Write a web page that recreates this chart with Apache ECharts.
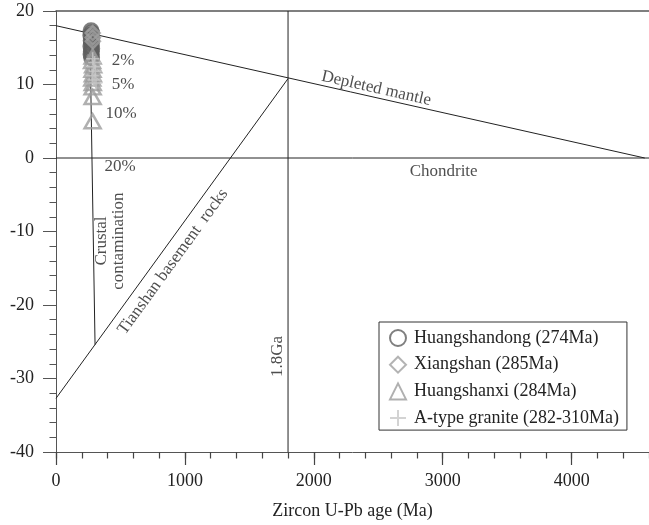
<!DOCTYPE html>
<html>
<head>
<meta charset="utf-8">
<script src="https://cdn.jsdelivr.net/npm/echarts@6/dist/echarts.min.js"></script>
<style>
  html, body { margin: 0; padding: 0; background: #fff; }
  #chart { width: 649px; height: 525px; }
</style>
</head>
<body>
<div id="chart"></div>
<script>
const SERIF = '"Liberation Serif", "Times New Roman", serif';

// Axis extents and tick steps
const xRange = [0, 4600];
const xMajorStep = 1000;
const xMinorStep = 200;
const yRange = [-40, 20];
const yMajorStep = 10;

// Zircon samples: age (Ma) and εHf(t)
const huangshandong = [[272, 17.3], [276, 17.0], [270, 16.7], [278, 16.3], [273, 16.0], [275, 15.6],
                       [271, 15.2], [277, 14.9], [274, 14.5], [272, 14.1], [276, 13.7]];
const xiangshan = [[285, 17.0], [285, 16.4], [286, 15.9]];
const huangshanxi = [[284, 13.8], [280, 13.2], [288, 12.6], [283, 12.0], [286, 11.4], [281, 10.8],
                     [285, 10.2], [284, 9.6], [284, 8.3], [284, 5.0]];
const aTypeGranite = [[285, 13.5], [300, 13.0], [290, 12.4], [305, 11.8], [282, 11.2], [295, 10.6], [310, 10.2]];

// Reference evolution lines
const depletedMantle = [[0, 18.0], [4567, 0]];
const chondrite = [[0, 0], [4600, 0]];
const tianshanBasement = [[0, -32.7], [1800, 10.8]];
const crustalTrend = [[263, 17.0], [303, -25.4]];
const age18Ga = [[1800, -40], [1800, 20]];

// Annotations: text, anchor point, rotation (deg)
const noteTexts = ['2%', '5%', '10%', '20%', 'Depleted mantle', 'Chondrite',
                   'Tianshan basement  rocks', 'Crustal\ncontamination', '1.8Ga'];
const notePoints = [[520, 13.3], [520, 10.0], [505, 6.0], [497, -1.2], [2484, 9.45], [3007, -1.9],
                    [908, -14.1], [419, -11.3], [1722, -27.0]];
const noteAngles = [0, 0, 0, 0, -12.7, 0, 54, 90, 90];

const lineColor = '#222';
const axisColor = '#555';

function refLine(data) {
  return {
    type: 'line', data: data, symbol: 'none', silent: true, z: 1,
    lineStyle: { color: lineColor, width: 1 }, animation: false
  };
}

const chart = echarts.init(document.getElementById('chart'), null, { renderer: 'canvas' });

chart.setOption({
  animation: false,
  backgroundColor: '#fff',
  textStyle: { fontFamily: SERIF },
  grid: { left: 56, top: 11, right: 0, bottom: 72.5, containLabel: false },
  xAxis: [
    {
      // major ticks, labels and axis title
      type: 'value', min: xRange[0], max: xRange[1], interval: xMajorStep, position: 'bottom',
      name: 'Zircon U-Pb age (Ma)', nameLocation: 'middle', nameGap: 50,
      nameTextStyle: { fontFamily: SERIF, fontSize: 18, color: '#222' },
      axisLine: { show: true, onZero: false, lineStyle: { color: axisColor, width: 1 } },
      axisTick: { show: true, length: 13, lineStyle: { color: '#444', width: 1.2 } },
      axisLabel: { show: true, margin: 20, fontFamily: SERIF, fontSize: 18, color: '#222',
                   showMaxLabel: false, formatter: v => String(v) },
      splitLine: { show: false }
    },
    {
      // minor ticks every 200 Ma
      type: 'value', min: xRange[0], max: xRange[1], interval: xMinorStep, position: 'bottom',
      axisLine: { show: false, onZero: false },
      axisTick: { show: true, length: 6.5, lineStyle: { color: '#444', width: 1.2 } },
      axisLabel: { show: false },
      splitLine: { show: false }
    },
    {
      // upper frame line
      type: 'value', min: xRange[0], max: xRange[1], position: 'top',
      axisLine: { show: true, onZero: false, lineStyle: { color: axisColor, width: 1.5 } },
      axisTick: { show: false }, axisLabel: { show: false }, splitLine: { show: false }
    }
  ],
  yAxis: {
    type: 'value', min: yRange[0], max: yRange[1], interval: yMajorStep,
    axisLine: { show: true, onZero: false, lineStyle: { color: axisColor, width: 1 } },
    axisTick: { show: true, length: 13, lineStyle: { color: axisColor } },
    minorTick: { show: true, splitNumber: 5, length: 6.5, lineStyle: { color: axisColor } },
    axisLabel: { margin: 22, fontFamily: SERIF, fontSize: 18, color: '#222' },
    splitLine: { show: false }
  },
  legend: {
    orient: 'vertical', left: 379, top: 322,
    data: ['Huangshandong (274Ma)', 'Xiangshan (285Ma)', 'Huangshanxi (284Ma)', 'A-type granite (282-310Ma)'],
    borderColor: '#333', borderWidth: 1, borderRadius: 0,
    padding: [7, 8, 3, 10], itemGap: 8.7, itemWidth: 16, itemHeight: 16,
    textStyle: { fontFamily: SERIF, fontSize: 18, color: '#222', padding: [0, 0, 0, 3] },
    selectedMode: false
  },
  series: [
    refLine(depletedMantle),
    refLine(chondrite),
    refLine(tianshanBasement),
    refLine(crustalTrend),
    refLine(age18Ga),
    {
      name: 'Huangshanxi (284Ma)', type: 'scatter', data: huangshanxi, z: 3,
      symbol: 'triangle', symbolSize: [16, 14],
      itemStyle: { color: 'transparent', borderColor: '#9c9c9c', borderWidth: 2.5 }
    },
    {
      name: 'Huangshandong (274Ma)', type: 'scatter', data: huangshandong, z: 2,
      symbol: 'circle', symbolSize: 14,
      itemStyle: { color: 'transparent', borderColor: '#5f5f5f', borderWidth: 3 }
    },
    {
      name: 'Xiangshan (285Ma)', type: 'scatter', data: xiangshan, z: 4,
      symbol: 'diamond', symbolSize: 14,
      itemStyle: { color: 'transparent', borderColor: '#a0a0a0', borderWidth: 2.5 }
    },
    {
      name: 'A-type granite (282-310Ma)', type: 'scatter', data: aTypeGranite, z: 5,
      symbol: 'path://M0,5L10,5M5,0L5,10', symbolSize: 13,
      itemStyle: { color: 'transparent', borderColor: '#c8c8c8', borderWidth: 1.5 }
    },
    {
      type: 'scatter', silent: true, z: 6, symbolSize: 0,
      data: notePoints.map((p, i) => ({
        value: p,
        label: { formatter: noteTexts[i], rotate: noteAngles[i] }
      })),
      label: {
        show: true, position: 'inside', align: 'center', verticalAlign: 'middle',
        fontFamily: SERIF, fontSize: 17, color: '#222', lineHeight: 17
      }
    }
  ]
});
</script>
</body>
</html>
